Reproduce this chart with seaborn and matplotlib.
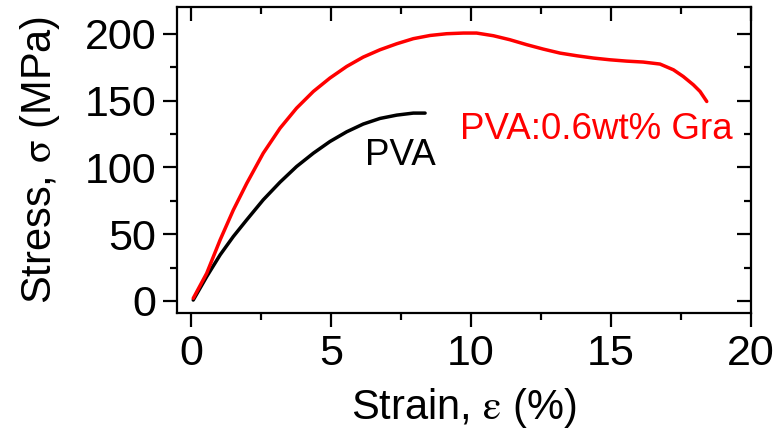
import matplotlib
matplotlib.use("Agg")
import matplotlib.pyplot as plt
import seaborn as sns
import pandas as pd
from matplotlib.ticker import MultipleLocator

# Data
pva_strain = [0.08, 0.56, 1.04, 1.51, 1.99, 2.58, 3.18, 3.77, 4.37, 4.96, 5.56, 6.15,
              6.75, 7.35, 7.94, 8.36]
pva_stress = [0.7, 18.2, 34.5, 48.2, 60.7, 75.7, 88.9, 100.6, 110.6, 119.3, 126.6, 132.4,
              136.6, 139.1, 140.6, 140.6]

gra_strain = [0.08, 0.56, 1.04, 1.51, 1.99, 2.58, 3.18, 3.77, 4.37, 4.96, 5.56, 6.15,
              6.75, 7.35, 7.94, 8.54, 9.13, 9.73, 10.2, 10.8, 11.39, 11.99, 12.58,
              13.18, 13.78, 14.37, 14.96, 15.56, 16.15, 16.75, 17.23, 17.58, 17.94,
              18.18, 18.42]
gra_stress = [2, 20.7, 45.7, 68, 88, 110.6, 129.3, 144.3, 156.8, 166.8, 175.5, 182.5,
              188, 192.5, 196.3, 198.7, 200, 200.5, 200.5, 198.5, 195.5, 191.8, 188.5,
              185.5, 183.5, 181.8, 180.5, 179.5, 178.8, 177.3, 173, 168, 161.8,
              156.8, 149.3]

x_ticks = [0, 5, 10, 15, 20]
y_ticks = [0, 50, 100, 150, 200]

sns.set_theme(style="ticks")
plt.rcParams['font.family'] = ['Liberation Sans', 'DejaVu Sans']
plt.rcParams['mathtext.fontset'] = 'stix'

df = pd.concat([
    pd.DataFrame({"strain": pva_strain, "stress": pva_stress, "sample": "PVA"}),
    pd.DataFrame({"strain": gra_strain, "stress": gra_stress, "sample": "PVA:0.6wt% Gra"}),
])

fig = plt.figure(figsize=(7.77, 4.36), dpi=100)
ax = fig.add_axes([177/777, 1 - 313/436, (751 - 177)/777, (313 - 7)/436])

sns.lineplot(data=df, x="strain", y="stress", hue="sample", sort=False,
             palette={"PVA": "black", "PVA:0.6wt% Gra": "#ff0000"},
             linewidth=2.5, legend=False, ax=ax, estimator=None)

ax.set_xlim(-0.5, 20)
ax.set_ylim(-9, 220)
ax.set_xticks(x_ticks)
ax.set_yticks(y_ticks)
ax.xaxis.set_minor_locator(MultipleLocator(2.5))
ax.yaxis.set_minor_locator(MultipleLocator(25))

for s in ax.spines.values():
    s.set_visible(True)
    s.set_linewidth(1.6)
    s.set_color("black")

ax.tick_params(axis="both", which="major", length=10, width=1.6, labelsize=31,
               colors="black", pad=5)
ax.tick_params(axis="both", which="minor", length=5, width=1.6, colors="black")
ax.tick_params(axis="x", which="both", top=True, direction="out")
ax.tick_params(axis="y", which="both", right=True, direction="out")
# top/right ticks point inward
for t in ax.xaxis.get_major_ticks() + ax.xaxis.get_minor_ticks():
    t.tick2line.set_marker(3)
for t in ax.yaxis.get_major_ticks() + ax.yaxis.get_minor_ticks():
    t.tick2line.set_marker(0)

ax.set_xlabel(r"Strain, $\mathrm{\varepsilon}$ (%)", fontsize=30, labelpad=9, color="black")
ax.set_ylabel(r"Stress, $\mathrm{\sigma}$ (MPa)", fontsize=30, labelpad=16, color="black")

ax.text(6.2, 109, "PVA", fontsize=26.5, color="black", va="center", ha="left")
ax.text(9.6, 128, "PVA:0.6wt% Gra", fontsize=26.5, color="#ff0000", va="center", ha="left")

fig.savefig("out.png", dpi=100)
